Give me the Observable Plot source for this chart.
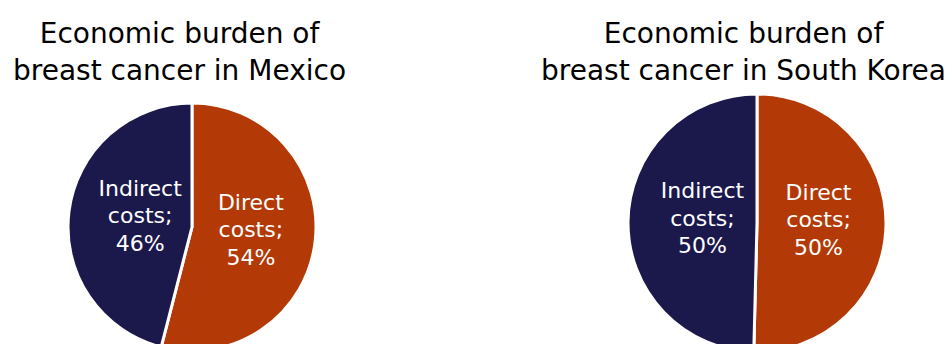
<!DOCTYPE html>
<html>
<head>
<meta charset="utf-8">
<script src="https://cdn.jsdelivr.net/npm/d3@7"></script>
<script src="https://cdn.jsdelivr.net/npm/@observablehq/plot@0.6"></script>
<style>
  html, body { margin: 0; padding: 0; background: #ffffff; }
  #chart svg { display: block; }
</style>
</head>
<body>
<div id="chart"></div>
<script>
// ---- Data ----
const countries = ["Mexico", "South Korea"];
const titles = [
  "Economic burden of\nbreast cancer in Mexico",
  "Economic burden of\nbreast cancer in South Korea"
];
const categories = ["Direct costs", "Indirect costs"];
const categoryLabels = ["Direct\ncosts;", "Indirect\ncosts;"];
const directShare = [54, 50.4];
const indirectShare = [46, 49.6];
const colors = ["#b33a06", "#1b194b"];

// ---- Layout (pixels) ----
const W = 952, H = 344;
const layout = [
  { cx: 192, cy: 227, r: 124, tx: 179 },
  { cx: 757, cy: 223, r: 129, tx: 743 }
];

// ---- Build slice table ----
const slices = [];
countries.forEach((country, i) => {
  const vals = [directShare[i], indirectShare[i]];
  const arcs = d3.pie().sort(null).startAngle(0).endAngle(2 * Math.PI)(vals);
  arcs.forEach((a, j) => {
    slices.push({
      country, panel: i, category: categories[j],
      label: `${categoryLabels[j]}\n${Math.round(vals[j])}%`,
      value: vals[j], startAngle: a.startAngle, endAngle: a.endAngle
    });
  });
});

const titleRows = countries.map((c, i) => ({ country: c, title: titles[i], panel: i }));

const color = Plot.scale({ color: { domain: categories, range: colors } });

function labelPos(s) {
  const L = layout[s.panel];
  const k = 0.45 * L.r;
  const mid = (s.startAngle + s.endAngle) / 2;
  return [L.cx + k * Math.sin(mid) + 3, L.cy - k * Math.cos(mid) - 6];
}

const pieMark = (index, scales) => {
  const g = d3.create("svg:g");
  for (const s of slices) {
    const L = layout[s.panel];
    const arc = d3.arc().innerRadius(0).outerRadius(L.r);
    g.append("path")
      .attr("transform", `translate(${scales.x(L.cx)},${scales.y(L.cy)})`)
      .attr("d", arc(s))
      .attr("fill", color.apply(s.category))
      .attr("stroke", "#ffffff")
      .attr("stroke-width", 3)
      .attr("stroke-linejoin", "round");
  }
  return g.node();
};

const chart = Plot.plot({
  width: W,
  height: H,
  margin: 0,
  style: { background: "#ffffff", fontFamily: "DejaVu Sans" },
  x: { domain: [0, W], range: [0, W], axis: null },
  y: { domain: [0, H], range: [0, H], axis: null },
  marks: [
    pieMark,
    Plot.text(slices, {
      x: d => labelPos(d)[0],
      y: d => labelPos(d)[1],
      text: "label",
      fill: "#ffffff",
      fontSize: 22,
      lineHeight: 1.25,
      fontFamily: "DejaVu Sans"
    }),
    Plot.text(titleRows, {
      x: d => layout[d.panel].tx,
      y: () => 16,
      text: "title",
      lineAnchor: "top",
      fill: "#000000",
      fontSize: 28,
      lineHeight: 1.32,
      fontFamily: "DejaVu Sans"
    })
  ]
});

document.getElementById("chart").appendChild(chart);
</script>
</body>
</html>
